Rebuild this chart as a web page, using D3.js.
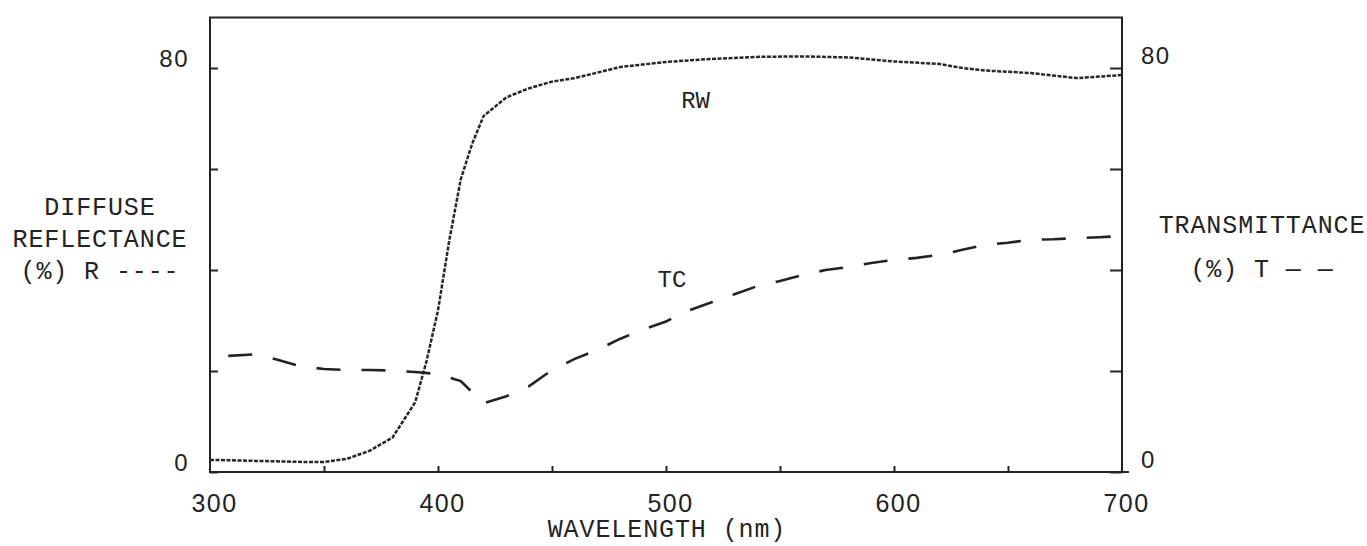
<!DOCTYPE html>
<html>
<head>
<meta charset="utf-8">
<script src="https://cdn.jsdelivr.net/npm/d3@7"></script>
<style>
  html, body { margin: 0; padding: 0; background: #fff; }
  svg { display: block; }
</style>
</head>
<body>
<svg id="chart"></svg>
<script>
/* ── Data ── */
const xTicks = [300, 400, 500, 600, 700];
const yLabelled = [0, 80];

// Diffuse reflectance R (RW), % vs wavelength nm
const reflWl  = [300, 320, 340, 350, 360, 370, 380, 390, 395, 400, 405, 410, 415, 420, 430, 440, 450, 460, 480, 500, 520, 540, 560, 580, 600, 620, 630, 640, 660, 680, 690, 700];
const reflVal = [2.4, 2.2, 2.0, 2.0, 2.6, 4.2, 6.8, 13.8, 22, 32, 46, 58, 65, 70.5, 74.2, 76, 77.3, 78, 80.2, 81.2, 81.8, 82.2, 82.3, 82.1, 81.3, 80.8, 80.0, 79.5, 79, 78, 78.3, 78.6];

// Transmittance T (TC), % vs wavelength nm
const transWl  = [308, 320, 330, 340, 350, 360, 370, 380, 390, 400, 410, 420, 430, 440, 450, 460, 470, 480, 490, 500, 510, 520, 530, 540, 550, 560, 570, 580, 590, 600, 610, 620, 630, 640, 650, 660, 670, 680, 690, 700];
const transVal = [23.0, 23.3, 22.2, 20.9, 20.4, 20.2, 20.2, 20.1, 19.8, 19.4, 18.0, 13.6, 15.0, 17.0, 20.2, 22.4, 24.2, 26.4, 28.2, 29.8, 32, 33.6, 35.2, 36.8, 37.8, 39, 40, 40.6, 41.4, 42, 42.4, 43, 44, 45, 45.4, 46, 46.1, 46.3, 46.5, 46.7];

// curve labels: [text, wavelength, value]
const curveLabels = [['RW', 513, 72.1], ['TC', 502.6, 36.6]];

/* ── Layout ── */
const W = 1367, H = 546;
const margin = { left: 210, right: 245, top: 17.5, bottom: 74 };
const INK = '#232323';
const MONO = '"Liberation Mono", "Courier New", monospace';
const SANS = '"Liberation Sans", Arial, sans-serif';

const svg = d3.select('#chart')
  .attr('width', W)
  .attr('height', H)
  .attr('viewBox', `0 0 ${W} ${H}`);

const x = d3.scaleLinear().domain([300, 700]).range([margin.left, W - margin.right]);
const y = d3.scaleLinear().domain([0, 90]).range([H - margin.bottom, margin.top]);

/* ── Frame ── */
svg.append('rect')
  .attr('x', x(300)).attr('y', y(90))
  .attr('width', x(700) - x(300)).attr('height', y(0) - y(90))
  .attr('fill', 'none').attr('stroke', INK).attr('stroke-width', 2);

svg.append('line')
  .attr('x1', x(700)).attr('x2', x(700) + 7)
  .attr('y1', y(0)).attr('y2', y(0))
  .attr('stroke', INK).attr('stroke-width', 2);

function styleAxis(ax, size) {
  ax.select('.domain').remove();
  ax.selectAll('.tick line').attr('stroke', INK).attr('stroke-width', 2);
  ax.selectAll('.tick text')
    .attr('fill', INK)
    .attr('font-size', size)
    .attr('letter-spacing', 1.5)
    .attr('font-family', SANS);
}

/* ── Left axis (R) ── */
svg.append('g')
  .attr('transform', `translate(${x(300)},0)`)
  .call(d3.axisLeft(y).tickValues([0, 20, 40, 60, 80])
    .tickSizeInner(-8).tickSizeOuter(0).tickPadding(21)
    .tickFormat(d => yLabelled.includes(d) ? d : ''))
  .call(ax => styleAxis(ax, 24))
  .call(ax => ax.selectAll('.tick text').attr('dy', '-0.05em'));

/* ── Right axis (T) ── */
svg.append('g')
  .attr('transform', `translate(${x(700)},0)`)
  .call(d3.axisRight(y).tickValues([0, 20, 40, 60, 80])
    .tickSizeInner(-12).tickSizeOuter(0).tickPadding(19)
    .tickFormat(d => yLabelled.includes(d) ? d : ''))
  .call(ax => styleAxis(ax, 24))
  .call(ax => ax.selectAll('.tick text').attr('dy', '-0.2em'));

/* ── Bottom axis ── */
svg.append('g')
  .attr('transform', `translate(0,${y(0)})`)
  .call(d3.axisBottom(x).tickValues(d3.range(350, 700, 50))
    .tickSizeInner(-6).tickSizeOuter(0).tickFormat(''))
  .call(ax => styleAxis(ax, 24));

svg.append('g')
  .attr('transform', `translate(4,${y(0)})`)
  .call(d3.axisBottom(x).tickValues(xTicks)
    .tickSize(0).tickPadding(22).tickFormat(d3.format('d')))
  .call(ax => styleAxis(ax, 25));

/* ── Curves ── */
const line = d3.line().x(d => x(d[0])).y(d => y(d[1]));

svg.append('path')
  .datum(d3.zip(reflWl, reflVal))
  .attr('d', line)
  .attr('fill', 'none')
  .attr('stroke', '#262626')
  .attr('stroke-width', 2.5)
  .attr('stroke-dasharray', '4,1.5');

svg.append('path')
  .datum(d3.zip(transWl, transVal))
  .attr('d', line)
  .attr('fill', 'none')
  .attr('stroke', INK)
  .attr('stroke-width', 2.6)
  .attr('stroke-dasharray', '24,21');

svg.selectAll('.curve-label')
  .data(curveLabels)
  .join('text')
  .attr('class', 'curve-label')
  .attr('x', d => x(d[1]))
  .attr('y', d => y(d[2]))
  .attr('text-anchor', 'middle')
  .attr('fill', INK)
  .attr('font-size', 24)
  .attr('font-family', MONO)
  .text(d => d[0]);

/* ── Axis titles ── */
function block(lines, cx, y0, step) {
  lines.forEach((t, i) => {
    svg.append('text')
      .attr('x', cx)
      .attr('y', y0 + i * step)
      .attr('text-anchor', 'middle')
      .attr('fill', INK)
      .attr('font-size', 25)
      .attr('letter-spacing', 0.9)
      .attr('font-family', MONO)
      .text(t);
  });
}

block(['DIFFUSE', 'REFLECTANCE', '(%) R ----'], 100, 215, 32);
block(['TRANSMITTANCE', '(%) T \u2014 \u2014'], 1262, 233, 44);
block(['WAVELENGTH (nm)'], 667, 537, 0);
</script>
</body>
</html>
